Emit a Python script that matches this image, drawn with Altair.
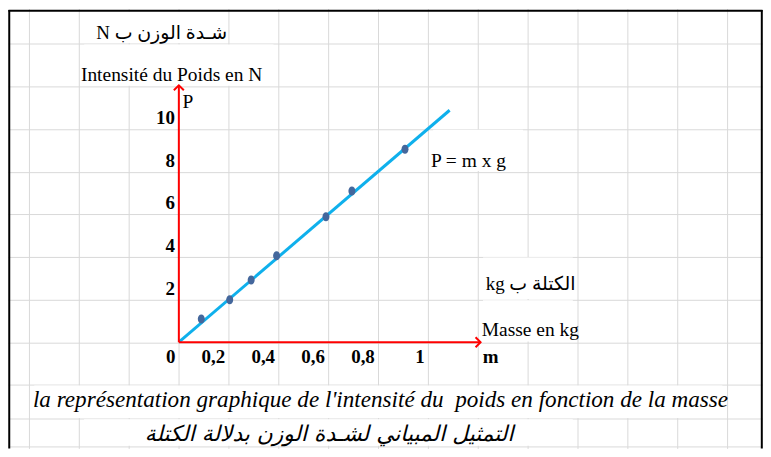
import altair as alt
import pandas as pd

# ---- data ----
mass = [0.09, 0.204, 0.29, 0.392, 0.59, 0.694, 0.907]          # kg
weight = [1.085, 1.99, 2.92, 4.05, 5.885, 7.09, 9.05]          # N
fit_mass = [0.0, 1.086]
fit_weight = [0.0, 10.88]

x_tick_values = [0, 0.2, 0.4, 0.6, 0.8, 1]
x_tick_labels = ["0", "0,2", "0,4", "0,6", "0,8", "1"]
y_tick_values = [2, 4, 6, 8, 10]
y_tick_labels = ["2", "4", "6", "8", "10"]

# spreadsheet grid (columns every 0.2 kg, rows every 2 N, two short rows at the bottom)
grid_mass = [-0.6, -0.4, -0.2, 0.0, 0.2, 0.4, 0.6, 0.8, 1.0, 1.2, 1.4, 1.6, 1.8, 2.0, 2.2]
grid_weight = [-4.89, -3.58, -2, 0, 2, 4, 6, 8, 10, 12, 14]

# merged spreadsheet cells (no inner grid lines): m1, m2, p1, p2
merged_m1 = [-0.38, -0.38, 1.02, 1.22, 1.22, -0.58, -0.38]
merged_m2 = [0.18, 0.38, 1.38, 1.58, 1.58, 2.18, 1.58]
merged_p1 = [14.03, 12.03, 8.03, 2.03, 0.03, -2.03, -3.61]
merged_p2 = [15.5, 13.97, 9.97, 3.97, 1.97, -3.55, -4.86]

# arrows of the hand-drawn axes
y_arrow_top = 12.05
x_arrow_end = 1.21

W, H = 757, 441
FONT = "Liberation Serif, DejaVu Sans"
AR_FONT = "DejaVu Sans"
RLE, PDF = "\u202B", "\u202C"

xs = alt.Scale(domain=[-0.6852, 2.3428], nice=False, zero=False)
ys = alt.Scale(domain=[-4.982, 15.649], nice=False, zero=False)
grid_color = "#d9d9d9"
xa = alt.Axis(values=grid_mass, grid=True, gridColor=grid_color, gridWidth=1, gridOpacity=1,
              labels=False, ticks=False, domain=False, title=None)
ya = alt.Axis(values=grid_weight, grid=True, gridColor=grid_color, gridWidth=1, gridOpacity=1,
              labels=False, ticks=False, domain=False, title=None)


def X(f):
    return alt.X(f, type="quantitative", scale=xs, axis=xa)


def Y(f):
    return alt.Y(f, type="quantitative", scale=ys, axis=ya)


# merged cells (white)
cells = pd.DataFrame({"m1": merged_m1, "m2": merged_m2, "p1": merged_p1, "p2": merged_p2})
cell_layer = alt.Chart(cells).mark_rect(color="white", opacity=1).encode(
    x=X("m1"), x2="m2", y=Y("p1"), y2="p2")

# red axes
axes_df = pd.DataFrame({"m1": [0, 0], "m2": [0, x_arrow_end], "p1": [0, 0], "p2": [y_arrow_top, 0]})
axes_layer = alt.Chart(axes_df).mark_rule(color="#ff0000", strokeWidth=2).encode(
    x=X("m1"), x2="m2", y=Y("p1"), y2="p2")

up_head = alt.Chart(pd.DataFrame({"m": [0], "p": [y_arrow_top]})).mark_point(
    shape="M -1 1 L 0 0 L 1 1", size=100, filled=False, color="#ff0000", strokeWidth=2, opacity=1
).encode(x=X("m"), y=Y("p"))
right_head = alt.Chart(pd.DataFrame({"m": [x_arrow_end], "p": [0]})).mark_point(
    shape="M -1 -1 L 0 0 L -1 1", size=100, filled=False, color="#ff0000", strokeWidth=2, opacity=1
).encode(x=X("m"), y=Y("p"))

# fitted line and measured points
line_layer = alt.Chart(pd.DataFrame({"m": fit_mass, "p": fit_weight})).mark_line(
    color="#0fb0ec", strokeWidth=3).encode(x=X("m"), y=Y("p"))
pts_layer = alt.Chart(pd.DataFrame({"m": mass, "p": weight})).mark_point(
    shape="M 0 -1 A 0.78 1 0 1 1 0 1 A 0.78 1 0 1 1 0 -1 Z", size=81, filled=True,
    color="#44679c", opacity=1).encode(x=X("m"), y=Y("p"))

# tick labels
xt = alt.Chart(pd.DataFrame({"m": x_tick_values, "p": [0] * len(x_tick_values), "t": x_tick_labels})).mark_text(
    align="right", baseline="alphabetic", dx=-3.5, dy=20.5, font=FONT, fontWeight="bold",
    fontSize=19, color="black").encode(x=X("m"), y=Y("p"), text="t:N")
yt = alt.Chart(pd.DataFrame({"m": [0] * len(y_tick_values), "p": y_tick_values, "t": y_tick_labels})).mark_text(
    align="right", baseline="alphabetic", dx=-4, dy=-5, font=FONT, fontWeight="bold",
    fontSize=19, color="black").encode(x=X("m"), y=Y("p"), text="t:N")


def label(text, m, p, align="left", size=19.5, font=FONT, weight="normal", style="normal"):
    kw = dict(align=align, baseline="alphabetic", font=font, fontSize=size, fontWeight=weight,
              fontStyle=style, color="black")
    return alt.Chart(pd.DataFrame({"m": [m], "p": [p], "t": [text]})).mark_text(**kw).encode(
        x=X("m"), y=Y("p"), text="t:N")


texts = [
    label(RLE + "شـدة الوزن ب N" + PDF, -0.069, 14.199, align="center", size=19),
    label("Intensité du Poids en N", -0.029, 12.234, align="center", size=19.5),
    label("P", 0.0148, 10.97, size=19.5),
    label("P = m x g", 1.0108, 8.211, size=19.5),
    label(RLE + "الكتلة ب kg" + PDF, 1.4108, 2.456, align="center", size=19),
    label("Masse en kg", 1.2148, 0.304, size=19.5),
    label("m", 1.2188, -0.959, size=19, weight="bold"),
    label("la représentation graphique de l'intensité du\u00a0 poids en fonction de la masse",
          -0.5852, -3.018, size=23.2, style="italic"),
    label(RLE + "التمثيل المبياني لشـدة الوزن بدلالة الكتلة" + PDF, 0.6028, -4.655, align="center",
          size=21.8, font=AR_FONT, style="italic"),
]

# black frame (spreadsheet border), drawn as pixel rules on the view
frame_df = pd.DataFrame({"a": [0]})
frame = [
    alt.Chart(frame_df).mark_rule(color="black", strokeWidth=2).encode(
        x=alt.value(1.25), y=alt.value(1.5), y2=alt.value(H)),
    alt.Chart(frame_df).mark_rule(color="black", strokeWidth=2).encode(
        x=alt.value(0.5), x2=alt.value(756.5), y=alt.value(2.25)),
    alt.Chart(frame_df).mark_rule(color="black", strokeWidth=2).encode(
        x=alt.value(755.8), y=alt.value(1.5), y2=alt.value(H)),
]

chart = alt.layer(
    cell_layer, line_layer, pts_layer, axes_layer, up_head, right_head, xt, yt, *texts, *frame
).properties(
    width=W, height=H, padding=0, autosize="none", background="white"
).configure_view(stroke=None)

chart.save("out.html", embed_options={"renderer": "svg", "actions": False})
